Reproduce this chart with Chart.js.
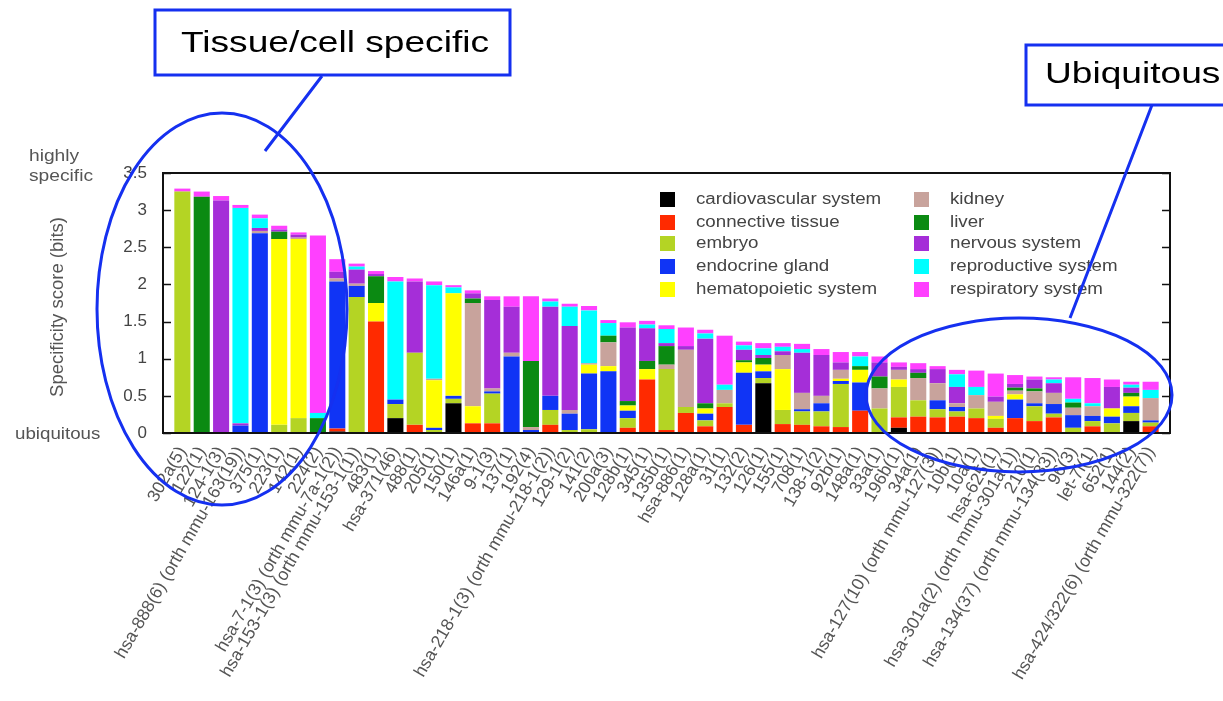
<!DOCTYPE html>
<html>
<head>
<meta charset="utf-8">
<script src="https://cdn.jsdelivr.net/npm/chart.js@4.4.1/dist/chart.umd.min.js"></script>
<style>
  html, body { margin: 0; padding: 0; background: #fff; }
  #wrap { position: relative; width: 1223px; height: 701px; }
</style>
</head>
<body>
<div id="wrap"><canvas id="c" width="1223" height="701"></canvas></div>
<script>
// miRNA clusters, ordered by specificity score
const mirnas = [
  '302a(5)', '122(1)', '124-1(3)', 'hsa-888(6) (orth mmu-163(19))', '375(1)', '223(1)', '142(1)', '224(2)',
  'hsa-7-1(3) (orth mmu-7a-1(2))', 'hsa-153-1(3) (orth mmu-153-1(1))', '483(1)', 'hsa-371(46)', '488(1)',
  '205(1)', '150(1)', '146a(1)', '9-1(3)', '137(1)', '192(4)', 'hsa-218-1(3) (orth mmu-218-1(2))',
  '129-1(2)', '141(2)', '200a(3)', '128b(1)', '345(1)', '135b(1)', 'hsa-886(1)', '128a(1)', '31(1)',
  '132(2)', '126(1)', '155(1)', '708(1)', '138-1(2)', '92b(1)', '148a(1)', '33a(1)', '196b(1)', '34a(1)',
  'hsa-127(10) (orth mmu-127(3))', '10b(1)', '10a(1)', 'hsa-625(1)', 'hsa-301a(2) (orth mmu-301a(1))',
  '210(1)', 'hsa-134(37) (orth mmu-134(33))', '96(3)', 'let-7i(1)', '652(1)', '144(2)',
  'hsa-424/322(6) (orth mmu-322(7))'
];

// specificity contribution (bits) of each tissue group, one value per cluster
const cardiovascular = [0,0,0,0,0,0,0,0,0.02,0, 0,0.2,0,0,0.4,0,0,0,0,0, 0,0,0,0,0,0,0,0,0,0, 0.67,0,0,0,0,0,0,0.07,0,0, 0,0,0,0,0,0,0,0,0,0.16, 0];
const connective     = [0,0,0,0,0,0,0,0,0.04,0, 1.5,0,0.11,0,0,0.13,0.13,0,0,0.11, 0,0,0,0.07,0.72,0.04,0.27,0.09,0.35,0.11, 0,0.12,0.11,0.09,0.08,0.3,0,0.14,0.22,0.21, 0.22,0.2,0.07,0.2,0.16,0.21,0,0.09,0,0, 0.09];
const embryo         = [3.25,0,0,0,0,0.11,0.2,0,0,1.83, 0,0.19,0.97,0.04,0.06,0,0.4,0,0,0.2, 0.04,0.05,0,0.13,0,0.82,0.08,0.08,0.05,0, 0.07,0.19,0.18,0.2,0.58,0,0.33,0.41,0.22,0.11, 0.07,0.13,0.12,0,0.2,0.05,0.07,0.07,0.13,0.11, 0.05];
const endocrine      = [0,0,0,0.1,2.69,0,0,0,1.98,0.15, 0,0.06,0,0.03,0.04,0,0.03,1.03,0.04,0.19, 0.22,0.75,0.83,0.1,0,0,0,0.09,0,0.7, 0.09,0,0.03,0.11,0.04,0.38,0,0,0,0.12, 0.06,0,0,0.25,0.04,0.13,0.17,0.07,0.09,0.09, 0.03];
const hematopoietic  = [0,0,0,0,0,2.5,2.41,0,0,0, 0.25,0,0,0.64,1.38,0.23,0,0,0,0, 0,0.12,0.07,0.07,0.14,0,0,0.07,0,0.14, 0.09,0.55,0,0,0.03,0.17,0,0.1,0,0, 0,0,0.04,0.07,0,0,0,0,0.11,0.13, 0];
const kidney         = [0,0,0,0,0.03,0,0.02,0,0.04,0.03, 0,0,0,0.02,0,1.39,0.04,0.05,0.04,0, 0.05,0.02,0.32,0,0,0.06,0.77,0,0.18,0, 0,0.19,0.22,0.1,0.12,0,0.27,0.13,0.3,0.23, 0.05,0.18,0.19,0.05,0.16,0.15,0.1,0.13,0,0, 0.3];
const liver          = [0,3.18,0,0,0,0.1,0,0.2,0,0, 0.36,0,0,0,0,0.06,0,0,0.89,0, 0,0,0.09,0.06,0.11,0.25,0,0.07,0,0.03, 0.09,0,0,0,0,0.05,0.16,0,0.07,0, 0,0,0,0.04,0.04,0,0.07,0,0,0.05, 0];
const nervous        = [0,0,3.13,0.03,0.04,0.03,0.04,0,0.09,0.19, 0.03,0,0.96,0,0,0.07,1.19,0.62,0,1.2, 1.13,0,0,0.99,0.44,0.04,0.05,0.87,0,0.14, 0.04,0.05,0.54,0.55,0.1,0,0.19,0.04,0.05,0.19, 0.22,0,0.07,0.05,0.12,0.13,0,0,0.29,0.07, 0];
const reproductive   = [0,0,0,2.9,0.13,0,0,0.07,0,0.04, 0,1.59,0,1.26,0.08,0,0,0,0,0.07, 0.26,0.71,0.17,0,0.05,0.19,0,0.07,0.07,0.06, 0.09,0.06,0.05,0,0,0.13,0,0,0,0, 0.17,0.11,0,0,0,0.05,0.05,0.04,0,0.04, 0.11];
const respiratory    = [0.04,0.07,0.06,0.04,0.05,0.05,0.03,2.39,0.17,0.04, 0.04,0.06,0.04,0.05,0.03,0.04,0.05,0.14,0.87,0.04, 0.04,0.06,0.04,0.07,0.05,0.05,0.25,0.05,0.66,0.05, 0.07,0.05,0.07,0.08,0.14,0.06,0.08,0.06,0.08,0.04, 0.06,0.22,0.31,0.12,0.04,0.03,0.29,0.34,0.1,0.04, 0.11];

const yTicks = [0, 0.5, 1, 1.5, 2, 2.5, 3, 3.5];

const tissues = [
  ['cardiovascular system', cardiovascular, '#000000'],
  ['connective tissue',     connective,     '#ff2a00'],
  ['embryo',                embryo,         '#b4d424'],
  ['endocrine gland',       endocrine,      '#1034f5'],
  ['hematopoietic system',  hematopoietic,  '#ffff00'],
  ['kidney',                kidney,         '#c8a39c'],
  ['liver',                 liver,          '#0b8a12'],
  ['nervous system',        nervous,        '#a52ed8'],
  ['reproductive system',   reproductive,   '#00ffff'],
  ['respiratory system',    respiratory,    '#ff40ff']
];

// an empty slot at each end keeps a one-bar margin inside the frame
const labels = [''].concat(mirnas, ['']);
const datasets = tissues.map(([name, vals, color]) => ({
  label: name,
  data: [null].concat(vals, [null]),
  backgroundColor: color,
  borderWidth: 0,
  categoryPercentage: 1,
  barPercentage: 0.83
}));

const SANS = '"Liberation Sans", Arial, sans-serif';
const BLUE = '#1530f0';

// text drawn with a slight horizontal widening
function wideText(ctx, text, x, y, sx, align) {
  ctx.save();
  ctx.translate(x, y);
  ctx.scale(sx, 1);
  ctx.textAlign = align;
  ctx.fillText(text, 0, 0);
  ctx.restore();
}

const decorations = {
  id: 'decorations',
  afterDraw(chart) {
    const ctx = chart.ctx;
    const a = chart.chartArea;
    const y = chart.scales.y;
    ctx.save();

    // frame and inward ticks
    ctx.strokeStyle = '#111';
    ctx.lineWidth = 2;
    ctx.strokeRect(a.left, a.top, a.right - a.left, a.bottom - a.top);
    ctx.lineWidth = 1.5;
    yTicks.forEach(v => {
      const py = Math.round(y.getPixelForValue(v)) + 0.5;
      ctx.beginPath();
      ctx.moveTo(a.left, py); ctx.lineTo(a.left + 8, py);
      ctx.moveTo(a.right, py); ctx.lineTo(a.right - 8, py);
      ctx.stroke();
    });

    // axis title and end labels
    ctx.fillStyle = '#555';
    ctx.font = '18.5px ' + SANS;
    ctx.save();
    ctx.translate(58, 307);
    ctx.rotate(-Math.PI / 2);
    ctx.textAlign = 'center';
    ctx.textBaseline = 'middle';
    ctx.fillText('Specificity score (bits)', 0, 0);
    ctx.restore();
    ctx.textBaseline = 'middle';
    ctx.font = '16px ' + SANS;
    wideText(ctx, 'highly', 29, 157, 1.2, 'left');
    wideText(ctx, 'specific', 29, 177, 1.2, 'left');
    wideText(ctx, 'ubiquitous', 15, 435, 1.17, 'left');

    // legend, two columns inside the plot
    ctx.font = '16px ' + SANS;
    const rowsY = [199, 222, 243, 266, 289];
    tissues.forEach(([name, , color], i) => {
      const col = Math.floor(i / 5);
      const sx = col === 0 ? 660 : 914;
      const ty = rowsY[i % 5];
      ctx.fillStyle = color;
      ctx.fillRect(sx, ty - 7, 15, 15);
      ctx.fillStyle = '#444';
      wideText(ctx, name, sx + 36, ty + 1, 1.17, 'left');
    });

    // callouts
    ctx.strokeStyle = BLUE;
    ctx.lineWidth = 3;
    ctx.strokeRect(155, 10, 355, 65);
    ctx.strokeRect(1026, 45, 215, 60);
    ctx.fillStyle = '#000';
    ctx.font = '29px ' + SANS;
    wideText(ctx, 'Tissue/cell specific', 335, 44, 1.28, 'center');
    wideText(ctx, 'Ubiquitous', 1045, 75, 1.28, 'left');

    ctx.beginPath();
    ctx.ellipse(222, 309, 125, 196, 0, 0, Math.PI * 2);
    ctx.stroke();
    ctx.beginPath();
    ctx.ellipse(1019, 395, 153, 77, 0, 0, Math.PI * 2);
    ctx.stroke();
    ctx.beginPath();
    ctx.moveTo(322, 76); ctx.lineTo(265, 151);
    ctx.moveTo(1152, 105); ctx.lineTo(1070, 318);
    ctx.stroke();

    ctx.restore();
  }
};

new Chart(document.getElementById('c'), {
  type: 'bar',
  data: { labels, datasets },
  options: {
    responsive: false,
    animation: false,
    layout: { padding: { top: 173, right: 53, left: 0, bottom: 0 } },
    plugins: { legend: { display: false }, tooltip: { enabled: false }, title: { display: false } },
    scales: {
      x: {
        type: 'category',
        stacked: true,
        offset: false,
        grid: { display: false },
        border: { display: false },
        afterFit: s => { s.height = 268; },
        ticks: {
          autoSkip: false,
          minRotation: 60,
          maxRotation: 60,
          padding: 2,
          color: '#555',
          font: { family: SANS, size: 17.5 }
        }
      },
      y: {
        stacked: true,
        min: 0,
        max: 3.5,
        grid: { display: false, drawTicks: false },
        border: { display: false },
        afterFit: s => { s.width = 163; },
        afterBuildTicks: s => { s.ticks = yTicks.map(v => ({ value: v })); },
        ticks: {
          padding: 16,
          color: '#444',
          callback: v => String(v),
          font: { family: SANS, size: 17 }
        }
      }
    }
  },
  plugins: [decorations]
});
</script>
</body>
</html>
